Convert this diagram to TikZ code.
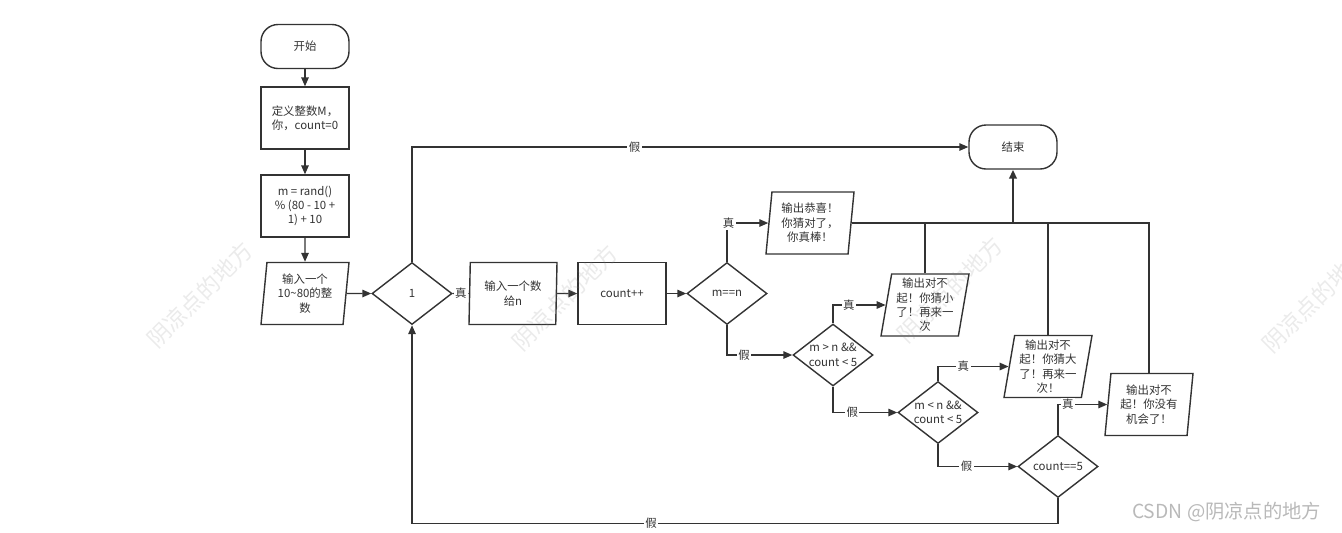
\documentclass[tikz,border=0pt]{standalone}
\usepackage{fontspec}
\setmainfont{Noto Sans CJK SC}
\usetikzlibrary{arrows.meta, shapes.geometric}
\usepackage{xcolor}
\definecolor{flow-line}{RGB}{51,51,51}
\definecolor{flow-text}{RGB}{51,51,51}

\begin{document}
\begin{tikzpicture}[
  >={Triangle[length=1.8mm,width=1.5mm]},
  font=\fontsize{6.5}{8.2}\selectfont,
  shape base/.style={draw=flow-line, line width=0.8pt, fill=white,
              text=flow-text, align=center},
  term/.style={shape base, rounded corners=3.4mm, minimum width=1.76cm,
              minimum height=0.88cm},
  proc/.style={shape base, minimum width=1.76cm, minimum height=1.24cm},
  io/.style={shape base, trapezium, trapezium left angle=72,
              trapezium right angle=108, trapezium stretches body,
              minimum width=1.76cm, minimum height=1.24cm,
              inner xsep=-6pt, inner ysep=-6pt},
  choice/.style={shape base, diamond, aspect=1.29, minimum width=1.6cm,
              minimum height=1.24cm, inner sep=-6pt},
  arrow/.style={->, draw=flow-line, line width=0.8pt},
  link/.style={draw=flow-line, line width=0.8pt},
  lbl/.style={fill=white, text=flow-text, inner sep=0.8pt},
  wmark/.style={text=gray, text opacity=0.16,
              font=\fontsize{13}{13}\selectfont, rotate=45},
]
\useasboundingbox (0,0) rectangle (26.84,-10.64);
\clip (0,0) rectangle (26.84,-10.64);

\node[term]   (start) at (6.10,-0.93)  {开始};
\node[proc]   (def)   at (6.10,-2.36)  {定义整数M，\\你，count=0};
\node[proc]   (rand)  at (6.10,-4.12)  {m = rand()\\\% (80 - 10 +\\1) + 10};
\node[io]     (in)    at (6.10,-5.87)  {输入一个\\10\textasciitilde80的整\\数};
\node[choice] (loop)  at (8.24,-5.87)  {1};
\node[io]     (inn)   at (10.26,-5.87) {输入一个数\\给n};
\node[proc]   (cnt)   at (12.44,-5.87) {count++};
\node[choice] (eq)    at (14.54,-5.87) {m==n};
\node[term]   (stop)  at (20.26,-2.94) {结束};
\node[io]     (win)   at (16.20,-4.46) {输出恭喜！\\你猜对了，\\你真棒！};
\node[choice] (gt)    at (16.66,-7.10) {m > n \&\&\\count < 5};
\node[io]     (low)   at (18.50,-6.10) {输出对不\\起！你猜小\\了！再来一\\次};
\node[choice] (lt)    at (18.76,-8.25) {m < n \&\&\\count < 5};
\node[io]     (high)  at (20.96,-7.33) {输出对不\\起！你猜大\\了！再来一\\次！};
\node[choice] (five)  at (21.16,-9.33) {count==5};
\node[io]     (lose)  at (22.98,-8.09) {输出对不\\起！你没有\\机会了！};

\foreach \a/\b in {start/def, def/rand, rand/in, in/loop, inn/cnt, cnt/eq}
  \draw[arrow] (\a) -- (\b);
\draw[arrow] (loop) -- node[lbl] {真} (inn);
\draw[arrow] (loop.north) |- node[lbl, pos=0.7] {假} (stop.west);
\draw[arrow] (five.south) -- ++(0,-0.5) -| node[lbl, pos=0.315] {假} (loop.south);

\draw[arrow] (eq.north) |- node[lbl, pos=0.52] {真} (win.west);
\draw[arrow] (eq.south) |- node[lbl, pos=0.63] {假} (gt.west);
\draw[arrow] (gt.north) |- node[lbl, pos=0.65] {真} (low.west);
\draw[arrow] (gt.south) |- node[lbl, pos=0.65] {假} (lt.west);
\draw[arrow] (lt.north) |- node[lbl, pos=0.68] {真} (high.west);
\draw[arrow] (lt.south) |- node[lbl, pos=0.68] {假} (five.west);
\draw[arrow] (five.north) |- node[lbl, pos=0.6] {真} (lose.west);

\coordinate (join) at (stop.south |- win.east);
\foreach \n in {low, high, lose}
  \draw[link] (\n.north) |- (join);
\draw[link] (win.east) -- (join);
\draw[arrow, line width=1.3pt] (join) -- (stop.south);

% watermarks
\foreach \x/\y [count=\i] in {4.0/-5.9, 11.3/-5.95, 19.0/-5.8, 26.3/-6.0}
  \node[wmark] (wm\i) at (\x,\y) {阴凉点的地方};
\node[text=gray!55, font=\fontsize{11}{11}\selectfont, anchor=east]
  (csdn) at (26.55,-10.24) {CSDN @阴凉点的地方};
\end{tikzpicture}
\end{document}
